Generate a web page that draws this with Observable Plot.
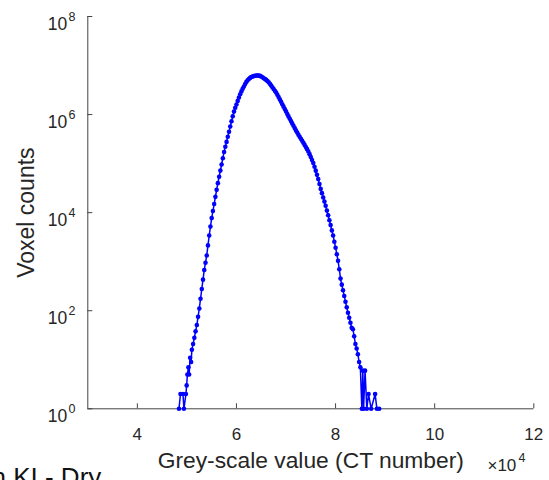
<!DOCTYPE html>
<html><head><meta charset="utf-8">
<script src="https://cdn.jsdelivr.net/npm/d3@7"></script>
<script src="https://cdn.jsdelivr.net/npm/@observablehq/plot@0.6"></script>
<style>
html,body{margin:0;padding:0;background:#fff;}
#chart{position:relative;width:549px;height:480px;overflow:hidden;}
</style>
</head><body><div id="chart"></div>
<script>
// Histogram: grey-scale value (CT number) vs voxel counts
const ctNumber = [
48400,48700,49200,49400,49800,49950,50100,50300,50450,50650,50850,51000,51250,51500,51750,52000,
52250,52500,52750,53000,53250,53500,53750,54000,54250,54500,54750,55000,55250,55500,55750,56000,
56250,56500,56750,57000,57250,57500,57750,58000,58250,58500,58750,59000,59250,59500,59750,60000,
60250,60500,60750,61000,61250,61500,61750,62000,62250,62500,62750,63000,63250,63500,63750,64000,
64250,64500,64750,65000,65250,65500,65750,66000,66250,66500,66750,67000,67250,67500,67750,68000,
68250,68500,68750,69000,69250,69500,69750,70000,70250,70500,70750,71000,71250,71500,71750,72000,
72250,72500,72750,73000,73250,73500,73750,74000,74250,74500,74750,75000,75250,75500,75750,76000,
76250,76500,76750,77000,77250,77500,77750,78000,78250,78500,78750,79000,79250,79500,79750,80000,
80250,80500,80750,81000,81250,81500,81750,82000,82250,82500,82750,83000,83250,83500,83750,84000,
84250,84500,84750,85000,85300,85500,85650,85950,86300,86650,87180,87980,88340,88800
];
const voxelCounts = [
1,2,2,1,2,3,5,7,5,11,9,16,21,28,38,51,
75,111,175,277,430,678,950,1340,2150,3420,5200,7740,10800,15000,21000,29200,
40000,54100,72000,95900,129000,173000,220000,277000,352000,446000,570000,730000,920000,1150000,1370000,1600000,
1900000,2230000,2600000,2970000,3350000,3740000,4200000,4640000,5000000,5320000,5600000,5830000,5980000,6090000,6180000,6240000,
6270000,6270000,6150000,5980000,5750000,5520000,5300000,5100000,4830000,4550000,4230000,3920000,3600000,3320000,3050000,2820000,
2540000,2290000,2040000,1820000,1620000,1450000,1300000,1160000,1030000,918000,820000,736000,660000,590000,530000,476000,
430000,389000,354000,322000,292000,266000,241000,218000,197000,177000,156000,136000,118000,103000,86000,71800,
59000,48300,38500,30500,25000,20400,16800,13800,11000,8870,7000,5570,4350,3420,2550,1930,
1420,1040,700,452,340,261,200,152,118,91,72,57,45,42,30,21,
17,13,9,7,1,6,1,6,1,2,1,2,1,1
];
const xTicks = [40000, 60000, 80000, 100000, 120000];
const xTickLabels = ["4", "6", "8", "10", "12"];
const yTicks = [1, 1e2, 1e4, 1e6, 1e8];
const yTickBase = ["10", "10", "10", "10", "10"];
const yTickExponents = ["0", "2", "4", "6", "8"];
const xLabel = ["Grey-scale value (CT number)"];
const yLabel = ["Voxel counts"];
const xMultiplier = ["×10"];
const xMultiplierExp = ["4"];
const cornerText = ["n KI - Dry"];

const data = ctNumber.map((x, i) => ({x, y: voxelCounts[i]}));
const blue = "#0000ff";
const axisColor = "#444";
const textColor = "#262626";

const chart = Plot.plot({
  width: 549,
  height: 480,
  marginLeft: 87.3,
  marginRight: 15.7,
  marginTop: 16,
  marginBottom: 71.7,
  style: {fontFamily: "'Liberation Sans', Arial, Helvetica, sans-serif", color: textColor, background: "white", overflow: "visible"},
  x: {domain: [30000, 120000]},
  y: {type: "log", domain: [1, 1e8]},
  marks: [
    // tick marks (inward)
    Plot.axisX({ticks: xTicks, tickSize: -5, fill: "none", stroke: axisColor, label: null}),
    Plot.axisY({ticks: yTicks, tickSize: -5, fill: "none", stroke: axisColor, label: null}),
    // tick labels
    Plot.axisX({ticks: xTicks, tickSize: 0, tickPadding: 18.7, fontSize: 17, fill: textColor,
      tickFormat: d => xTickLabels[xTicks.indexOf(d)], label: null}),
    Plot.axisY({ticks: yTicks, tickSize: 0, tickPadding: 20.5, fontSize: 17.5, fill: textColor, dy: 8,
      tickFormat: d => yTickBase[yTicks.indexOf(d)], label: null}),
    Plot.text(yTicks, {y: d => d, text: (d, i) => yTickExponents[i], frameAnchor: "left",
      dx: -19.3, dy: 4, textAnchor: "start", lineAnchor: "bottom", fontSize: 12.5, fill: textColor}),
    // axis lines
    Plot.ruleX([30000], {stroke: axisColor, strokeWidth: 1}),
    Plot.ruleY([1], {stroke: axisColor, strokeWidth: 1}),
    // data
    Plot.line(data, {x: "x", y: "y", stroke: blue, strokeWidth: 1.5}),
    Plot.dot(data, {x: "x", y: "y", r: 2.3, fill: blue, stroke: null}),
    // axis titles
    Plot.text(xLabel, {text: d => d, frameAnchor: "bottom", dy: 58.7, textAnchor: "middle", lineAnchor: "bottom", fontSize: 22.8, fill: textColor}),
    Plot.text(yLabel, {text: d => d, frameAnchor: "left", dx: -54.3, rotate: -90, textAnchor: "middle", lineAnchor: "bottom", fontSize: 23, fill: textColor}),
    Plot.text(xMultiplier, {text: d => d, frameAnchor: "bottom-right", dx: -17.5, dy: 62.5, textAnchor: "end", lineAnchor: "bottom", fontSize: 17, fill: textColor}),
    Plot.text(xMultiplierExp, {text: d => d, frameAnchor: "bottom-right", dx: -15.3, dy: 53, textAnchor: "start", lineAnchor: "bottom", fontSize: 12.5, fill: textColor}),
    // cropped caption from original figure
    Plot.text(cornerText, {text: d => d, frameAnchor: "bottom-left", dx: -96.3, dy: 77.3, textAnchor: "start", lineAnchor: "bottom", fontSize: 26, fill: "#111"})
  ]
});
document.getElementById("chart").appendChild(chart);
</script>
</body></html>
